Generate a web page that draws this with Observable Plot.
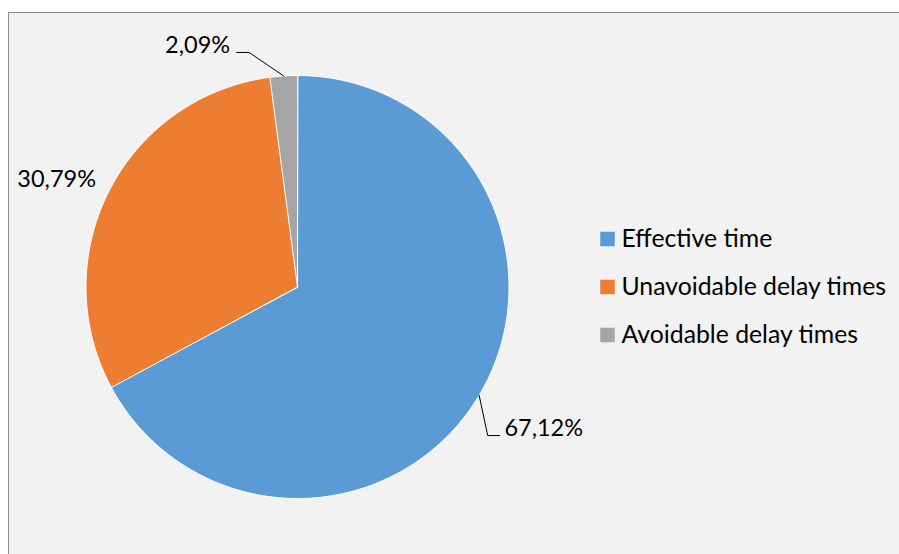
<!DOCTYPE html>
<html><head><meta charset="utf-8">
<script src="https://cdn.jsdelivr.net/npm/d3@7"></script>
<script src="https://cdn.jsdelivr.net/npm/@observablehq/plot@0.6"></script>
<style>
html,body{margin:0;padding:0;background:#fff;overflow:hidden;width:899px;height:554px}
#frame{position:absolute;left:8px;top:12px;width:1000px;height:1000px;background:#f2f2f2;border:1px solid #8c8c8c;box-sizing:border-box}
#chart{position:absolute;left:0;top:0}
#chart svg{background:transparent}
</style></head><body><div id="frame"></div><div id="chart"></div>
<script>
// ---- data ----
const categories = ["Effective time", "Unavoidable delay times", "Avoidable delay times"];
const shares = [67.12, 30.79, 2.09];
const colors = ["#5b9bd5", "#ed7d31", "#a5a5a5"];
const labelText = ["67,12%", "30,79%", "2,09%"];

// ---- layout ----
const W = 899, H = 554;
const CX = 297, CY = 286.5, R = 211.5;          // pie centre and radius in px
const FONT = "Lato, 'Open Sans', sans-serif";
const FS = 23.5, LEGEND_FS = 24.8;
// label offsets (px) from slice mid-point on the rim, and leader polylines (px offsets)
const labelOffsets = [[64.6, 32.7], [-52.5, -11], [-86, -30]];
const leaders = [[[0, 0], [8.6, 40.2], [20.6, 40.2]], null, [[0, 0], [-34.5, -23.5], [-47, -23.5]]];

const slices = d3.pie().sort(null).value(d => d.value)(
  categories.map((name, i) => ({name, value: shares[i], label: labelText[i]}))
);

// slice polygons in unit-circle coordinates (angle clockwise from 12 o'clock)
const polys = [];
for (const s of slices) {
  const n = Math.max(2, Math.ceil((s.endAngle - s.startAngle) / (Math.PI / 360)));
  polys.push({name: s.data.name, x: 0, y: 0});
  for (let k = 0; k <= n; k++) {
    const a = s.startAngle + (s.endAngle - s.startAngle) * k / n;
    polys.push({name: s.data.name, x: Math.sin(a), y: Math.cos(a)});
  }
}

const labels = slices.map((s, i) => {
  const m = (s.startAngle + s.endAngle) / 2;
  return {label: s.data.label, x: Math.sin(m), y: Math.cos(m), dx: labelOffsets[i][0], dy: labelOffsets[i][1]};
});
const leaderPts = [];
slices.forEach((s, i) => {
  if (!leaders[i]) return;
  const m = (s.startAngle + s.endAngle) / 2;
  leaders[i].forEach(([ox, oy]) => leaderPts.push({k: i, x: Math.sin(m) + ox / R, y: Math.cos(m) - oy / R}));
});

const legendX = 310 / R, legendStep = 48 / R;
const legendRows = categories.map((name, i) => ({name, x: legendX, y: (1 - i) * legendStep}));

const marks = [
  Plot.line(polys, {x: "x", y: "y", z: "name", fill: "name", stroke: "white", strokeWidth: 1, curve: "linear-closed"}),
  Plot.line(leaderPts, {x: "x", y: "y", z: "k", stroke: "#000", strokeWidth: 1}),
  Plot.dot(legendRows, {x: "x", y: "y", fill: "name", symbol: "square", r: 8.2, stroke: null})
];
labels.forEach(l => marks.push(Plot.text([l], {x: "x", y: "y", text: "label", dx: l.dx, dy: l.dy, fill: "#000", fontSize: FS, fontFamily: FONT})));
marks.push(Plot.text(legendRows, {x: "x", y: "y", text: "name", dx: 14, textAnchor: "start", fill: "#000", fontSize: LEGEND_FS, fontFamily: FONT}));

const chart = Plot.plot({
  width: W, height: H,
  margin: 0,
  style: {background: "transparent", overflow: "visible"},
  x: {domain: [-1, 1], range: [CX - R, CX + R], axis: null},
  y: {domain: [-1, 1], range: [CY + R, CY - R], axis: null},
  color: {domain: categories, range: colors},
  marks
});
document.getElementById("chart").appendChild(chart);
</script></body></html>
